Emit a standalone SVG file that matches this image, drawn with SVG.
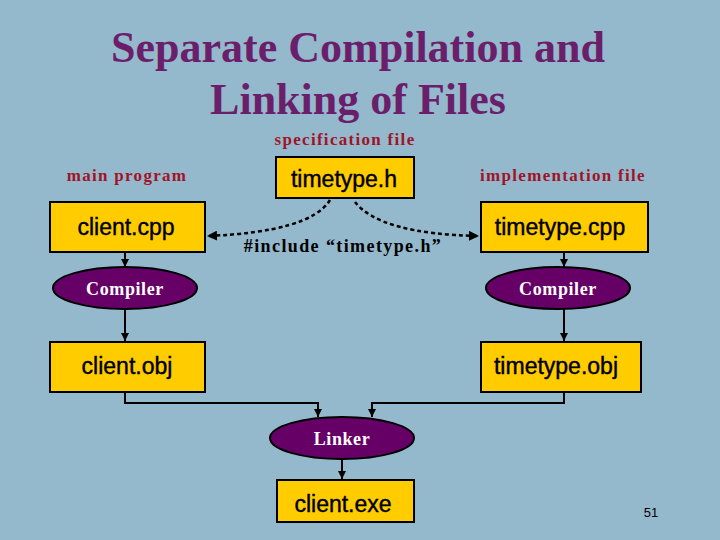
<svg xmlns="http://www.w3.org/2000/svg" width="720" height="540" viewBox="0 0 720 540">
<style>
.box{fill:#ffcc00;stroke:#000;stroke-width:2}
.ell{fill:#660066;stroke:#000;stroke-width:2}
.bt{font-family:"Liberation Sans",Arial,sans-serif;font-size:23px;text-anchor:middle;stroke:#000;stroke-width:0.4}
.et{font-family:"Liberation Serif",serif;font-weight:bold;font-size:18px;letter-spacing:0.6px;fill:#fff;text-anchor:middle}
.lbl{font-family:"Liberation Serif",serif;font-weight:bold;font-size:17px;letter-spacing:1.3px;fill:#a01428;text-anchor:middle}
.ttl{font-family:"Liberation Serif",serif;font-weight:bold;font-size:44px;fill:#6b1f6b;text-anchor:middle}
.ln{fill:none;stroke:#000;stroke-width:2}
.dl{fill:none;stroke:#000;stroke-width:2.5;stroke-dasharray:4,3}
</style>
<defs><marker id="a" viewBox="0 0 10 10" refX="10" refY="5" markerWidth="4" markerHeight="4" orient="auto"><path d="M0,0L10,5L0,10z" fill="#000"/></marker></defs>
<rect width="720" height="540" fill="#94b8cc"/>
<text class="ttl" x="358" y="62">Separate Compilation and</text>
<text class="ttl" x="358" y="114">Linking of Files</text>
<text class="lbl" x="345" y="145">specification file</text>
<text class="lbl" x="127" y="181">main program</text>
<text class="lbl" x="563" y="181">implementation file</text>
<text x="343" y="252" style="font-family:'Liberation Serif',serif;font-weight:bold;font-size:18px;letter-spacing:1.4px;text-anchor:middle">#include “timetype.h”</text>
<text x="651" y="517" style="font-family:'Liberation Sans',sans-serif;font-size:13px;text-anchor:middle">51</text>
<g id="connectors">
<path class="dl" d="M330,200 Q310,232 207,236" marker-end="url(#a)"/>
<path class="dl" d="M355,202 Q380,234 479,236" marker-end="url(#a)"/>
<path class="ln" d="M125,252V267" marker-end="url(#a)"/>
<path class="ln" d="M125,309V341" marker-end="url(#a)"/>
<path class="ln" d="M564,252V267" marker-end="url(#a)"/>
<path class="ln" d="M564,309V341" marker-end="url(#a)"/>
<path class="ln" d="M125,392V403H318V417" marker-end="url(#a)"/>
<path class="ln" d="M564,392V403H372V417" marker-end="url(#a)"/>
<path class="ln" d="M342,459V479" marker-end="url(#a)"/>
</g>
<g id="timetype_h"><rect class="box" x="276" y="157" width="138" height="41"/><text class="bt" x="344" y="187">timetype.h</text></g>
<g id="client_cpp"><rect class="box" x="50" y="202" width="155" height="50"/><text class="bt" x="126" y="235">client.cpp</text></g>
<g id="timetype_cpp"><rect class="box" x="481" y="202" width="167" height="50"/><text class="bt" x="560" y="235">timetype.cpp</text></g>
<g id="compiler1"><ellipse class="ell" cx="125" cy="288" rx="72" ry="21"/><text class="et" x="125" y="295">Compiler</text></g>
<g id="compiler2"><ellipse class="ell" cx="558" cy="288" rx="72" ry="21"/><text class="et" x="558" y="295">Compiler</text></g>
<g id="client_obj"><rect class="box" x="50" y="342" width="155" height="50"/><text class="bt" x="127" y="374">client.obj</text></g>
<g id="timetype_obj"><rect class="box" x="481" y="342" width="160" height="50"/><text class="bt" x="556" y="374">timetype.obj</text></g>
<g id="linker"><ellipse class="ell" cx="342" cy="438" rx="72" ry="21"/><text class="et" x="342" y="445">Linker</text></g>
<g id="client_exe"><rect class="box" x="277" y="480" width="137" height="42"/><text class="bt" x="343" y="512">client.exe</text></g>
</svg>
